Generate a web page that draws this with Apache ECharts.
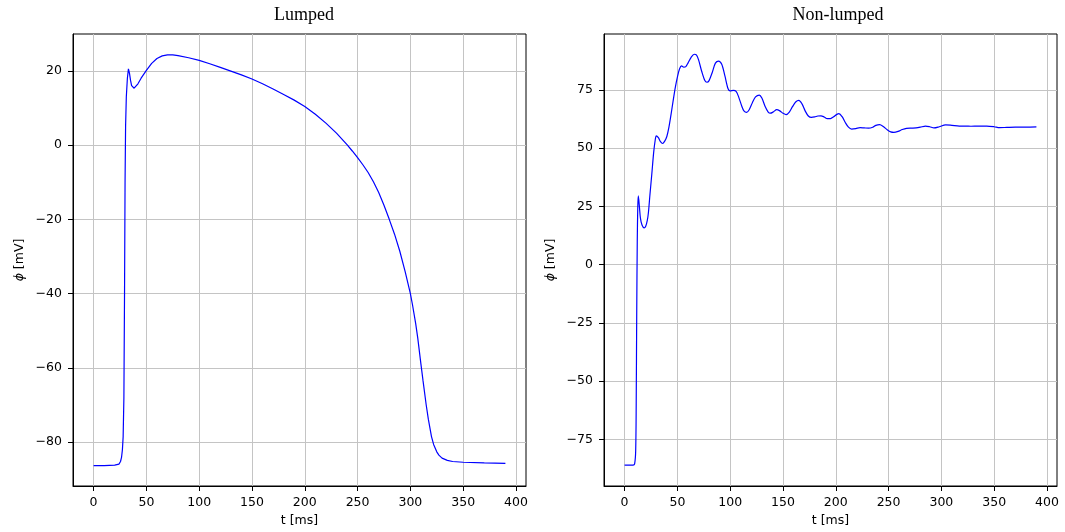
<!DOCTYPE html>
<html>
<head>
<meta charset="utf-8">
<script src="https://cdn.jsdelivr.net/npm/echarts@6/dist/echarts.min.js"></script>
<style>
html,body{margin:0;padding:0;background:#fff;}
#chart{width:1065px;height:532px;}
</style>
</head>
<body>
<div id="chart"></div>
<script>
// ---- data ----
const titles = ['Lumped', 'Non-lumped'];
const xTicks = [0, 50, 100, 150, 200, 250, 300, 350, 400];
const yTicksLumped = [-80, -60, -40, -20, 0, 20];
const yTicksNonLumped = [-75, -50, -25, 0, 25, 50, 75];

const lumpedT = [0, 10, 20, 24, 25.5, 26.5, 27.3, 28, 28.7, 29.3, 29.8, 30.3, 31, 32, 33, 34, 35, 36, 37, 38.4, 40, 42, 45, 50, 55, 60, 65, 70, 75, 80, 90, 100, 110, 120, 130, 140, 150, 160, 170, 180, 190, 200, 210, 220, 230, 240, 245, 250, 255, 260, 265, 270, 275, 280, 285, 290, 295, 300, 302, 305, 307, 310, 312, 315, 317, 320, 322, 325, 327, 330, 335, 340, 350, 370, 390];
const lumpedV = [-86.3, -86.3, -86.2, -85.9, -85.2, -84, -82, -78.5, -68, -40, -10, 5, 13, 18, 20.5, 19.3, 17.4, 16, 15.5, 15.3, 15.6, 16.5, 18, 20.1, 22, 23.3, 24, 24.3, 24.3, 24.1, 23.5, 22.8, 21.9, 20.9, 19.9, 18.9, 17.8, 16.5, 15.1, 13.6, 12.1, 10.4, 8.3, 5.9, 3.2, 0.1, -1.6, -3.4, -5.3, -7.4, -9.9, -12.8, -16.2, -20, -24, -28.6, -34, -40, -43, -48, -52, -59, -63.5, -70, -73.8, -78.5, -80.6, -82.6, -83.5, -84.3, -84.9, -85.2, -85.4, -85.6, -85.7];

const nonLumpedT = [0, 8, 9.5, 10.5, 11, 11.5, 12, 12.5, 13, 14, 15, 16.5, 18.5, 20, 21.5, 22.6, 24, 25.8, 27.5, 29, 30, 32, 34, 36, 38, 40, 42, 44, 46, 48, 50, 52, 54, 56, 58, 60, 63, 66, 68, 70, 73, 76, 78, 80, 83, 86, 89, 92, 95, 98, 100, 103, 105.6, 108, 111, 113, 115.6, 118, 121, 124, 127.6, 130, 133, 136, 138, 141, 144, 147, 150, 153, 156, 159, 162, 165, 168, 171, 174, 177, 180, 183, 186, 189, 192, 195, 198, 201, 203, 206, 209, 212, 215, 219, 223, 227, 231, 235, 238, 241.5, 245, 249, 252, 255, 259, 263, 267, 272, 276, 280, 285, 289, 293, 298, 304, 310, 317, 323, 328, 335, 343, 350, 355, 362, 370, 380, 390];
const nonLumpedV = [-86, -86, -85.5, -80, -60, -20, 10, 25, 29.5, 25, 20, 17, 15.8, 16.5, 19, 22.5, 30, 39, 48, 53.5, 55.3, 54.5, 52.8, 52, 53, 55, 59, 64.5, 70.4, 76, 80.5, 84, 85.3, 84.8, 85, 86.5, 89, 90.3, 90, 88, 83, 79, 78.3, 79, 82.5, 86.5, 87.4, 86, 81, 75.5, 74.6, 74.8, 74.4, 72, 68, 66, 65.4, 66.5, 69.5, 72, 72.8, 71.5, 68, 65.5, 65, 65.6, 66.5, 66, 65, 64.4, 65.5, 67.8, 69.8, 70.5, 69, 66, 63.8, 63.2, 63.4, 63.8, 63.9, 63.4, 62.7, 62.7, 63.5, 64.5, 64.8, 63.5, 61, 59, 58.2, 58.4, 58.8, 58.7, 58.6, 59, 59.8, 60.1, 59.3, 57.8, 57, 56.8, 57.2, 58, 58.5, 58.6, 58.7, 59, 59.5, 59.2, 58.7, 59.2, 60, 59.8, 59.5, 59.5, 59.4, 59.5, 59.5, 59.2, 58.8, 58.9, 59, 59, 59.1];

function pairs(t, v) { return t.map((x, i) => [x, v[i]]); }
const fmt = v => String(v).replace('-', '\u2212');

const FS = 12.5;
const labelFont = { fontFamily: 'DejaVu Sans', fontSize: FS, color: '#000' };
const gridColor = '#c4c4c4';

function xAxis(gi) {
  return {
    type: 'value', gridIndex: gi, min: -19.5, max: 409.5,
    minInterval: 50, maxInterval: 50,
    name: 't [ms]', nameLocation: 'middle', nameGap: 28,
    nameTextStyle: { fontFamily: 'DejaVu Sans', fontSize: FS, color: '#000' },
    axisLine: { show: true, onZero: false, lineStyle: { color: '#000', width: 1 } },
    axisTick: { show: true, length: 5, customValues: xTicks, lineStyle: { color: '#000', width: 1 } },
    axisLabel: Object.assign({ customValues: xTicks, margin: 10, formatter: fmt }, labelFont),
    splitLine: { show: true, lineStyle: { color: gridColor, width: 1 } }
  };
}
function yAxis(gi, min, max, step, ticks) {
  return {
    type: 'value', gridIndex: gi, min: min, max: max,
    minInterval: step, maxInterval: step,
    name: '{i|\u03d5} [mV]', nameLocation: 'middle', nameGap: 47, nameRotate: 90,
    nameTextStyle: {
      fontFamily: 'DejaVu Sans', fontSize: FS, color: '#000',
      rich: { i: { fontFamily: 'DejaVu Sans', fontStyle: 'italic', fontSize: FS, color: '#000' } }
    },
    axisLine: { show: true, onZero: false, lineStyle: { color: '#000', width: 1 } },
    axisTick: { show: true, length: 5, customValues: ticks, lineStyle: { color: '#000', width: 1 } },
    axisLabel: Object.assign({ customValues: ticks, margin: 11, formatter: fmt }, labelFont),
    splitLine: { show: true, lineStyle: { color: gridColor, width: 1 } }
  };
}

const titleStyle = { fontFamily: 'Liberation Serif', fontSize: 18, fontWeight: 'normal', color: '#000' };

const chart = echarts.init(document.getElementById('chart'), null, { renderer: 'canvas' });
chart.setOption({
  animation: false,
  backgroundColor: '#fff',
  title: [
    { text: titles[0], left: 299, top: 1, textAlign: 'center', textStyle: titleStyle },
    { text: titles[1], left: 833, top: 1, textAlign: 'center', textStyle: titleStyle }
  ],
  grid: [
    { left: 73, top: 34, width: 453, height: 452, show: true, borderColor: '#000', borderWidth: 1, backgroundColor: 'transparent' },
    { left: 604, top: 34, width: 453, height: 452, show: true, borderColor: '#000', borderWidth: 1, backgroundColor: 'transparent' }
  ],
  xAxis: [xAxis(0), xAxis(1)],
  yAxis: [
    yAxis(0, -91.8, 29.9, 20, yTicksLumped),
    yAxis(1, -95, 99, 25, yTicksNonLumped)
  ],
  series: [
    { type: 'line', xAxisIndex: 0, yAxisIndex: 0, data: pairs(lumpedT, lumpedV),
      showSymbol: false, smooth: false, lineStyle: { color: '#0000ff', width: 1.2 } },
    { type: 'line', xAxisIndex: 1, yAxisIndex: 1, data: pairs(nonLumpedT, nonLumpedV),
      showSymbol: false, smooth: 0.3, lineStyle: { color: '#0000ff', width: 1.2 } }
  ]
});
</script>
</body>
</html>
